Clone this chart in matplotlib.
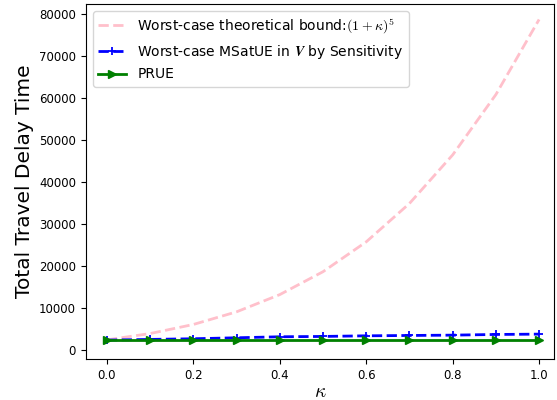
import matplotlib

matplotlib.use("Agg")
import matplotlib.pyplot as plt

plt.rcParams["mathtext.fontset"] = "cm"

kappa = [0.0, 0.1, 0.2, 0.3, 0.4, 0.5, 0.6, 0.7, 0.8, 0.9, 1.0]
bound = [2460, 3960, 6120, 9130, 13230, 18680, 25790, 34920, 46480, 60840, 78720]
msatue = [2400, 2560, 2720, 2950, 3190, 3270, 3420, 3500, 3580, 3740, 3820]
prue = [2380, 2380, 2380, 2380, 2380, 2380, 2380, 2380, 2380, 2380, 2380]

fig = plt.figure(figsize=(5.57, 4.0), dpi=100)
ax = fig.add_axes([0.154, 0.1025, 0.841, 0.8875])

ax.plot(kappa, bound, color="pink", ls="--", lw=2,
        label=r"Worst-case theoretical bound:$(1+\kappa)^5$")
ax.plot(kappa, msatue, color="blue", ls="--", lw=2, marker="+", ms=6, mew=1.3,
        label=r"Worst-case MSatUE in $\boldsymbol{V}$ by Sensitivity")
ax.plot(kappa, prue, color="green", lw=2, marker=">", ms=6,
        label="PRUE")

ax.set_xlim(-0.049, 1.035)
ax.set_ylim(-2100, 82400)
ax.set_xticks([0.0, 0.2, 0.4, 0.6, 0.8, 1.0])
ax.set_yticks(range(0, 80001, 10000))
ax.tick_params(labelsize=8.5)
ax.set_xlabel(r"$\kappa$", fontsize=14, labelpad=0)
ax.set_ylabel("Total Travel Delay Time", fontsize=14.5)
ax.legend(loc="upper left", fontsize=10, borderaxespad=0.5)

fig.savefig("out.png", dpi=100)
